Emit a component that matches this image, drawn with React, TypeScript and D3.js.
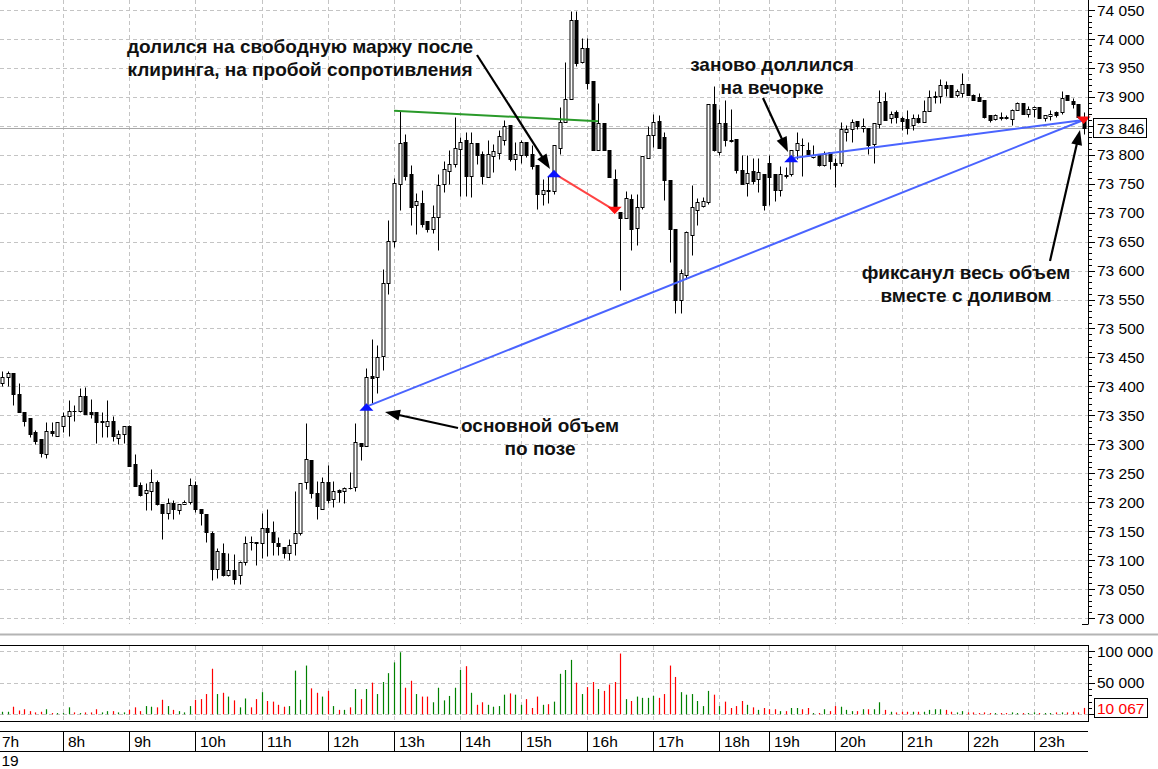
import React from 'react';
import * as d3 from 'd3';

// ---------- DATA ----------
const HOURS = [7, 8, 9, 10, 11, 12, 13, 14, 15, 16, 17, 18, 19, 20, 21, 22, 23];
const CANDLES_PER_HOUR = [12, 12, 12, 12, 12, 12, 12, 11, 12, 12, 12, 9, 12, 12, 12, 12, 9];
const DATE_LABEL = '19';

const OPEN = [
  73406, 73416, 73423, 73386, 73355, 73345, 73322, 73309, 73284, 73323, 73314, 73331,
  73349, 73358, 73357, 73383, 73355, 73356, 73339, 73332, 73340, 73310, 73318, 73332,
  73266, 73230, 73216, 73220, 73235, 73197, 73181, 73199, 73186, 73197, 73201, 73229,
  73188, 73180, 73147, 73085, 73113, 73075, 73083, 73074, 73097, 73132, 73131, 73130,
  73155, 73148, 73129, 73122, 73113, 73129, 73147, 73235, 73273, 73216, 73189, 73235,
  73205, 73221, 73219, 73225, 73227, 73303, 73297, 73418, 73417, 73452, 73579, 73651,
  73750, 73822, 73766, 73714, 73717, 73685, 73672, 73693, 73749, 73772, 73784, 73810,
  73826, 73764, 73821, 73802, 73762, 73798, 73803, 73826, 73852, 73793, 73800,
  73822, 73801, 73783, 73733, 73740, 73737, 73812, 73856, 73897, 74033, 73961, 73984,
  73927, 73809, 73855, 73809, 73759, 73701, 73690, 73724, 73673, 73709, 73795, 73834,
  73859, 73830, 73757, 73671, 73549, 73593, 73662, 73705, 73712, 73718, 73887, 73805,
  73855, 73825, 73827, 73774, 73751, 73772, 73759, 73767, 73786,
  73766, 73739, 73765, 73766, 73809, 73817, 73809, 73796, 73802, 73783, 73804, 73786,
  73786, 73839, 73845, 73858, 73847, 73846, 73819, 73853, 73892, 73863, 73874, 73864,
  73862, 73852, 73863, 73856, 73876, 73900, 73902, 73920, 73920, 73903, 73907, 73923,
  73904, 73900, 73894, 73869, 73862, 73866, 73866, 73862, 73877, 73889, 73870, 73879,
  73882, 73863, 73867, 73873, 73873, 73903, 73893, 73887, 73866,
];
const HIGH = [
  73426, 73427, 73423, 73405, 73355, 73345, 73325, 73309, 73339, 73339, 73338, 73356,
  73377, 73368, 73397, 73399, 73379, 73356, 73356, 73377, 73348, 73325, 73332, 73333,
  73284, 73235, 73234, 73257, 73239, 73197, 73207, 73204, 73197, 73204, 73241, 73237,
  73188, 73180, 73150, 73121, 73129, 73112, 73111, 73098, 73142, 73141, 73132, 73181,
  73188, 73168, 73140, 73122, 73136, 73220, 73234, 73336, 73273, 73236, 73244, 73264,
  73236, 73222, 73227, 73252, 73336, 73303, 73432, 73481, 73471, 73602, 73688, 73760,
  73876, 73836, 73783, 73734, 73740, 73685, 73713, 73766, 73790, 73809, 73866, 73830,
  73840, 73840, 73821, 73806, 73825, 73819, 73842, 73860, 73852, 73822, 73826,
  73822, 73816, 73783, 73759, 73763, 73816, 73883, 73961, 74049, 74049, 74002, 74002,
  73927, 73889, 73855, 73809, 73776, 73701, 73737, 73733, 73733, 73797, 73849, 73871,
  73868, 73839, 73757, 73671, 73603, 73669, 73748, 73726, 73727, 73887, 73919, 73879,
  73895, 73879, 73827, 73799, 73799, 73795, 73795, 73767, 73799,
  73766, 73781, 73779, 73808, 73839, 73829, 73822, 73816, 73802, 73806, 73804, 73795,
  73856, 73852, 73862, 73858, 73864, 73846, 73854, 73911, 73909, 73876, 73877, 73867,
  73877, 73870, 73870, 73894, 73911, 73910, 73930, 73927, 73920, 73913, 73941, 73923,
  73905, 73906, 73894, 73869, 73870, 73873, 73868, 73879, 73891, 73889, 73884, 73884,
  73883, 73868, 73877, 73875, 73910, 73903, 73898, 73887, 73874,
];
const LOW = [
  73400, 73400, 73368, 73355, 73331, 73312, 73301, 73278, 73276, 73314, 73314, 73322,
  73314, 73341, 73356, 73352, 73346, 73303, 73312, 73312, 73306, 73301, 73302, 73263,
  73228, 73210, 73187, 73187, 73195, 73136, 73171, 73171, 73179, 73197, 73197, 73183,
  73161, 73132, 73066, 73069, 73072, 73072, 73059, 73058, 73091, 73118, 73091, 73103,
  73107, 73109, 73109, 73103, 73101, 73109, 73143, 73222, 73207, 73171, 73188, 73199,
  73192, 73201, 73198, 73223, 73219, 73272, 73297, 73371, 73388, 73429, 73560, 73640,
  73705, 73757, 73678, 73664, 73676, 73667, 73665, 73635, 73736, 73750, 73779, 73728,
  73728, 73727, 73784, 73750, 73762, 73770, 73793, 73817, 73790, 73774, 73786,
  73796, 73776, 73707, 73713, 73717, 73733, 73801, 73856, 73897, 73954, 73958, 73914,
  73809, 73809, 73809, 73761, 73701, 73566, 73690, 73635, 73645, 73706, 73795, 73813,
  73812, 73722, 73614, 73526, 73526, 73586, 73627, 73678, 73709, 73715, 73807, 73799,
  73815, 73822, 73769, 73749, 73728, 73749, 73736, 73705, 73714,
  73720, 73729, 73760, 73763, 73792, 73764, 73798, 73795, 73780, 73781, 73775, 73745,
  73781, 73824, 73822, 73844, 73839, 73802, 73786, 73846, 73860, 73854, 73854, 73842,
  73835, 73843, 73854, 73856, 73876, 73890, 73890, 73902, 73900, 73900, 73900, 73904,
  73894, 73892, 73864, 73857, 73860, 73860, 73862, 73852, 73877, 73870, 73865, 73865,
  73863, 73858, 73860, 73865, 73871, 73894, 73880, 73864, 73835,
];
const CLOSE = [
  73416, 73423, 73386, 73355, 73340, 73318, 73305, 73285, 73323, 73319, 73338, 73349,
  73357, 73357, 73383, 73352, 73352, 73338, 73340, 73340, 73314, 73318, 73332, 73263,
  73228, 73213, 73221, 73235, 73197, 73181, 73199, 73188, 73197, 73200, 73229, 73188,
  73181, 73149, 73085, 73115, 73075, 73083, 73067, 73097, 73130, 73131, 73130, 73155,
  73149, 73131, 73124, 73113, 73126, 73147, 73234, 73274, 73216, 73194, 73235, 73203,
  73220, 73217, 73224, 73224, 73304, 73297, 73417, 73415, 73451, 73578, 73651, 73751,
  73820, 73763, 73710, 73720, 73681, 73671, 73693, 73748, 73776, 73784, 73812, 73822,
  73764, 73820, 73800, 73763, 73801, 73806, 73832, 73849, 73793, 73801, 73822,
  73800, 73781, 73733, 73740, 73737, 73816, 73856, 73897, 74032, 73958, 73984, 73924,
  73809, 73855, 73809, 73761, 73707, 73690, 73726, 73672, 73709, 73797, 73834, 73856,
  73812, 73757, 73671, 73549, 73596, 73666, 73709, 73718, 73720, 73887, 73808, 73854,
  73825, 73824, 73774, 73749, 73769, 73755, 73770, 73714, 73762,
  73739, 73766, 73764, 73808, 73821, 73816, 73802, 73800, 73783, 73802, 73789, 73783,
  73845, 73845, 73856, 73849, 73850, 73816, 73854, 73891, 73860, 73870, 73866, 73859,
  73847, 73863, 73857, 73876, 73900, 73902, 73920, 73915, 73900, 73910, 73923, 73904,
  73894, 73892, 73866, 73860, 73868, 73863, 73863, 73877, 73889, 73870, 73879, 73882,
  73863, 73868, 73871, 73869, 73898, 73894, 73887, 73866, 73846,
];
const VOLUME = [
  4000, 4000, 12000, 6000, 8000, 5000, 3000, 4000, 8000, 2000, 2000, 2000,
  11000, 3000, 2000, 3000, 3000, 8000, 3000, 5000, 5000, 3000, 3000, 7000,
  11000, 5000, 13000, 12000, 11000, 23000, 13000, 7000, 5000, 3000, 13000, 23000,
  24000, 32000, 72000, 32000, 34000, 28000, 22000, 11000, 25000, 11000, 24000, 35000,
  21000, 20000, 15000, 12000, 13000, 69000, 23000, 77000, 41000, 34000, 28000, 37000,
  13000, 7000, 7000, 11000, 40000, 24000, 40000, 50000, 32000, 51000, 65000, 82000,
  98000, 42000, 53000, 32000, 28000, 28000, 19000, 42000, 22000, 29000, 42000, 70000,
  76000, 34000, 15000, 19000, 15000, 12000, 13000, 31000, 33000, 31000, 15000,
  24000, 10000, 28000, 15000, 16000, 20000, 64000, 70000, 86000, 50000, 32000, 43000,
  51000, 40000, 37000, 47000, 51000, 96000, 24000, 21000, 28000, 26000, 26000, 29000,
  26000, 32000, 77000, 59000, 35000, 31000, 32000, 21000, 13000, 37000, 31000, 13000,
  20000, 10000, 13000, 21000, 15000, 11000, 7000, 10000, 8000,
  8000, 5000, 5000, 10000, 10000, 8000, 10000, 2000, 2000, 8000, 5000, 13000,
  12000, 7000, 5000, 5000, 8000, 8000, 8000, 19000, 7000, 4000, 3000, 4000,
  4000, 4000, 4000, 4000, 7000, 8000, 8000, 7000, 4000, 3000, 5000, 3000,
  3000, 2000, 3000, 2000, 2000, 2000, 2000, 3000, 2000, 2000, 2000, 3000,
  2000, 2000, 2000, 3000, 3000, 3000, 4000, 3000, 10067,
];

const PRICE_TICKS = [73000, 73050, 73100, 73150, 73200, 73250, 73300, 73350, 73400, 73450, 73500,
  73550, 73600, 73650, 73700, 73750, 73800, 73850, 73900, 73950, 74000, 74050];
const PRICE_LABELS = [73000, 73050, 73100, 73150, 73200, 73250, 73300, 73350, 73400, 73450, 73500,
  73550, 73600, 73650, 73700, 73750, 73800, 73900, 73950, 74000, 74050];
const VOLUME_TICKS = [0, 50000, 100000];
const VOLUME_LABELS = [50000, 100000];
const LAST_PRICE = 73846;
const LAST_VOLUME = 10067;

// trades: candle index and price
const BUY_IDX = [66, 100, 143];
const BUY_PRICE = [73365, 73768, 73794];
const SELL_IDX = [111, 196];
const SELL_PRICE = [73704, 73860];
// resistance line (index, price)
const RESIST_IDX = [71, 108];
const RESIST_PRICE = [73876, 73858];

const NOTE_1 = ['долился на свободную маржу после', 'клиринга, на пробой сопротивления'];
const NOTE_2 = ['заново доллился', 'на вечорке'];
const NOTE_3 = ['фиксанул весь объем', 'вместе с доливом'];
const NOTE_4 = ['основной объем', 'по позе'];

// ---------- CHART ----------
const FONT = "Arial, 'Liberation Sans', sans-serif";
const fmt = (v: number) => d3.format(',')(v).replace(/,/g, ' ');

export default function App() {
  const W = 1158;
  const H = 769;
  const N = CLOSE.length;
  const axisX = 1088;

  const x = d3.scaleLinear().domain([0, N - 1]).range([2.3, 1083.6]);
  const y = d3.scaleLinear().domain([73000, 74050]).range([618, 10]);
  const vy = d3.scaleLinear().domain([0, 100000]).range([714.3, 651]);

  const cx = (i: number) => Math.round(x(i)) + 0.5;
  const cy = (v: number) => Math.round(y(v)) + 0.5;

  // hour boundaries
  const starts: number[] = [];
  let acc = 0;
  CANDLES_PER_HOUR.forEach((n) => { starts.push(acc); acc += n; });
  const sepX = starts.map((s) => Math.round(x(s - 1)) + 0.5);

  const minorTicks = d3.range(73000, 74060, 10);
  const volMinor = d3.range(0, 100001, 10000);

  const up = (i: number) => CLOSE[i] >= OPEN[i];

  const arrow = (x1: number, y1: number, x2: number, y2: number, key: string) => {
    const a = Math.atan2(y2 - y1, x2 - x1);
    const L = 15, Wd = 5.5;
    const bx = x2 - L * Math.cos(a), by = y2 - L * Math.sin(a);
    const p1 = [bx + Wd * Math.sin(a), by - Wd * Math.cos(a)];
    const p2 = [bx - Wd * Math.sin(a), by + Wd * Math.cos(a)];
    return (
      <g key={key}>
        <line x1={x1} y1={y1} x2={bx + 2 * Math.cos(a)} y2={by + 2 * Math.sin(a)} stroke="#000" strokeWidth={2.2} />
        <polygon points={`${x2},${y2} ${p1[0]},${p1[1]} ${p2[0]},${p2[1]}`} fill="#000" />
      </g>
    );
  };

  const note = (lines: string[], cxp: number, by: number, key: string) => (
    <text key={key} x={cxp} y={by} textAnchor="middle" fontFamily={FONT} fontWeight="bold" fontSize={19} fill="#111">
      {lines.map((l, k) => (
        <tspan key={k} x={cxp} dy={k === 0 ? 0 : 23}>{l}</tspan>
      ))}
    </text>
  );

  return (
    <svg width={W} height={H} style={{ position: 'absolute', left: 0, top: 0, background: '#fff' }}>
      <rect x={0} y={0} width={W} height={H} fill="#fff" />
      {/* price grid */}
      <g stroke="#c4c4c4" strokeDasharray="4,3" strokeWidth={1}>
        {PRICE_TICKS.map((p) => (
          <line key={'pg' + p} x1={0} x2={axisX} y1={cy(p)} y2={cy(p)} />
        ))}
        {sepX.map((sx, k) => (
          k > 0 ? <line key={'vg' + k} x1={sx} x2={sx} y1={0} y2={624} /> : null
        ))}
        {VOLUME_TICKS.map((v) => (
          <line key={'vgv' + v} x1={0} x2={axisX} y1={Math.round(vy(v)) + 0.5} y2={Math.round(vy(v)) + 0.5} />
        ))}
        {sepX.map((sx, k) => (
          k > 0 ? <line key={'vgl' + k} x1={sx} x2={sx} y1={646} y2={721} /> : null
        ))}
      </g>
      {/* last price line */}
      <line x1={0} x2={axisX} y1={cy(LAST_PRICE)} y2={cy(LAST_PRICE)} stroke="#a8a8a8" strokeWidth={1} />

      {/* candles */}
      <g>
        {CLOSE.map((c, i) => {
          const X = cx(i);
          const o = OPEN[i];
          const top = Math.round(y(Math.max(o, c))) + 0.5;
          const bot = Math.round(y(Math.min(o, c))) + 0.5;
          const bull = up(i);
          return (
            <g key={'c' + i}>
              <line x1={X} x2={X} y1={cy(HIGH[i])} y2={cy(LOW[i])} stroke="#000" strokeWidth={1} />
              {bot - top < 1 ? (
                <line x1={X - 2} x2={X + 2} y1={top} y2={top} stroke="#000" strokeWidth={1} />
              ) : (
                <rect x={X - 1.5} y={top} width={3} height={bot - top} fill={bull ? '#fff' : '#000'} stroke="#000" strokeWidth={1} />
              )}
            </g>
          );
        })}
      </g>

      {/* trade lines */}
      <line x1={x(RESIST_IDX[0])} y1={y(RESIST_PRICE[0])} x2={x(RESIST_IDX[1])} y2={y(RESIST_PRICE[1])} stroke="#2a9a2a" strokeWidth={2} />
      <line x1={x(BUY_IDX[1])} y1={y(BUY_PRICE[1])} x2={x(SELL_IDX[0])} y2={y(SELL_PRICE[0])} stroke="#ff4444" strokeWidth={2} />
      <line x1={x(BUY_IDX[0])} y1={y(BUY_PRICE[0])} x2={x(SELL_IDX[1])} y2={y(SELL_PRICE[1])} stroke="#4a64ff" strokeWidth={2} />
      <line x1={x(BUY_IDX[2])} y1={y(BUY_PRICE[2])} x2={x(SELL_IDX[1])} y2={y(SELL_PRICE[1])} stroke="#4a64ff" strokeWidth={2} />
      {BUY_IDX.map((bi, k) => {
        const X = x(bi), Y = y(BUY_PRICE[k]);
        return <polygon key={'b' + k} points={`${X},${Y - 3.5} ${X - 7},${Y + 4} ${X + 7},${Y + 4}`} fill="#0a14ff" />;
      })}
      {SELL_IDX.map((si, k) => {
        const X = x(si), Y = y(SELL_PRICE[k]);
        return <polygon key={'s' + k} points={`${X},${Y + 4} ${X - 7},${Y - 3.5} ${X + 7},${Y - 3.5}`} fill="#ff1010" />;
      })}

      {/* arrows */}
      {arrow(477, 55, 550, 169, 'a1')}
      {arrow(763, 98, 788, 152, 'a2')}
      {arrow(1050, 261, 1080, 130, 'a3')}
      {arrow(458, 428, 385, 412, 'a4')}

      {/* notes */}
      {note(NOTE_1, 300, 53, 'n1')}
      {note(NOTE_2, 772, 71, 'n2')}
      {note(NOTE_3, 966, 279, 'n3')}
      {note(NOTE_4, 540, 432, 'n4')}

      {/* price axis */}
      <line x1={axisX + 0.5} x2={axisX + 0.5} y1={0} y2={624} stroke="#000" />
      <line x1={axisX - 6} x2={axisX + 0.5} y1={624.5} y2={624.5} stroke="#000" />
      {minorTicks.map((p) => (
        <line key={'mt' + p} x1={axisX} x2={p % 50 === 0 ? axisX + 7 : axisX + 4} y1={cy(p)} y2={cy(p)} stroke="#000" />
      ))}
      {PRICE_LABELS.map((p) => (
        <text key={'pl' + p} x={1097} y={y(p)} dy="0.36em" fontFamily={FONT} fontSize={15.5} fill="#000">{fmt(p)}</text>
      ))}
      <rect x={1093.5} y={Math.round(y(LAST_PRICE)) - 9.5} width={53} height={19} fill="#fff" stroke="#000" />
      <text x={1097} y={y(LAST_PRICE)} dy="0.36em" fontFamily={FONT} fontSize={15.5} fill="#000">{fmt(LAST_PRICE)}</text>

      {/* separator */}
      <line x1={0} x2={W} y1={634.5} y2={634.5} stroke="#b4b4b4" strokeWidth={2} />

      {/* volume panel */}
      <g>
        {VOLUME.map((v, i) => (
          <line key={'v' + i} x1={cx(i)} x2={cx(i)} y1={vy(0)} y2={vy(v)} stroke={up(i) ? '#008000' : '#ff0000'} strokeWidth={1.2} />
        ))}
      </g>
      <line x1={0} x2={axisX} y1={645.5} y2={645.5} stroke="#000" />
      <line x1={0} x2={axisX} y1={721.5} y2={721.5} stroke="#000" />
      <line x1={axisX + 0.5} x2={axisX + 0.5} y1={645} y2={722} stroke="#000" />
      {volMinor.map((v) => (
        <line key={'vm' + v} x1={axisX} x2={v % 50000 === 0 ? axisX + 7 : axisX + 4} y1={Math.round(vy(v)) + 0.5} y2={Math.round(vy(v)) + 0.5} stroke="#000" />
      ))}
      {VOLUME_LABELS.map((v) => (
        <text key={'vl' + v} x={1097} y={vy(v)} dy="0.36em" fontFamily={FONT} fontSize={15.5} fill="#000">{fmt(v)}</text>
      ))}
      <rect x={1094.5} y={Math.round(vy(LAST_VOLUME)) - 9.5} width={53} height={19} fill="#fff" stroke="#000" />
      <text x={1097} y={vy(LAST_VOLUME)} dy="0.36em" fontFamily={FONT} fontSize={15.5} fill="#ff0000">{fmt(LAST_VOLUME)}</text>

      {/* time axis */}
      <line x1={0} x2={axisX} y1={731.5} y2={731.5} stroke="#000" />
      <line x1={0} x2={axisX} y1={751.5} y2={751.5} stroke="#000" />
      {sepX.map((sx, k) => (
        <g key={'h' + k}>
          {k > 0 ? <line x1={sx} x2={sx} y1={731} y2={752} stroke="#000" /> : null}
          <text x={sx + 4.5} y={741.5} dy="0.36em" fontFamily={FONT} fontSize={15.5} fill="#000">{HOURS[k] + 'h'}</text>
        </g>
      ))}
      <text x={1.5} y={760} dy="0.36em" fontFamily={FONT} fontSize={15.5} fill="#000">{DATE_LABEL}</text>
    </svg>
  );
}
